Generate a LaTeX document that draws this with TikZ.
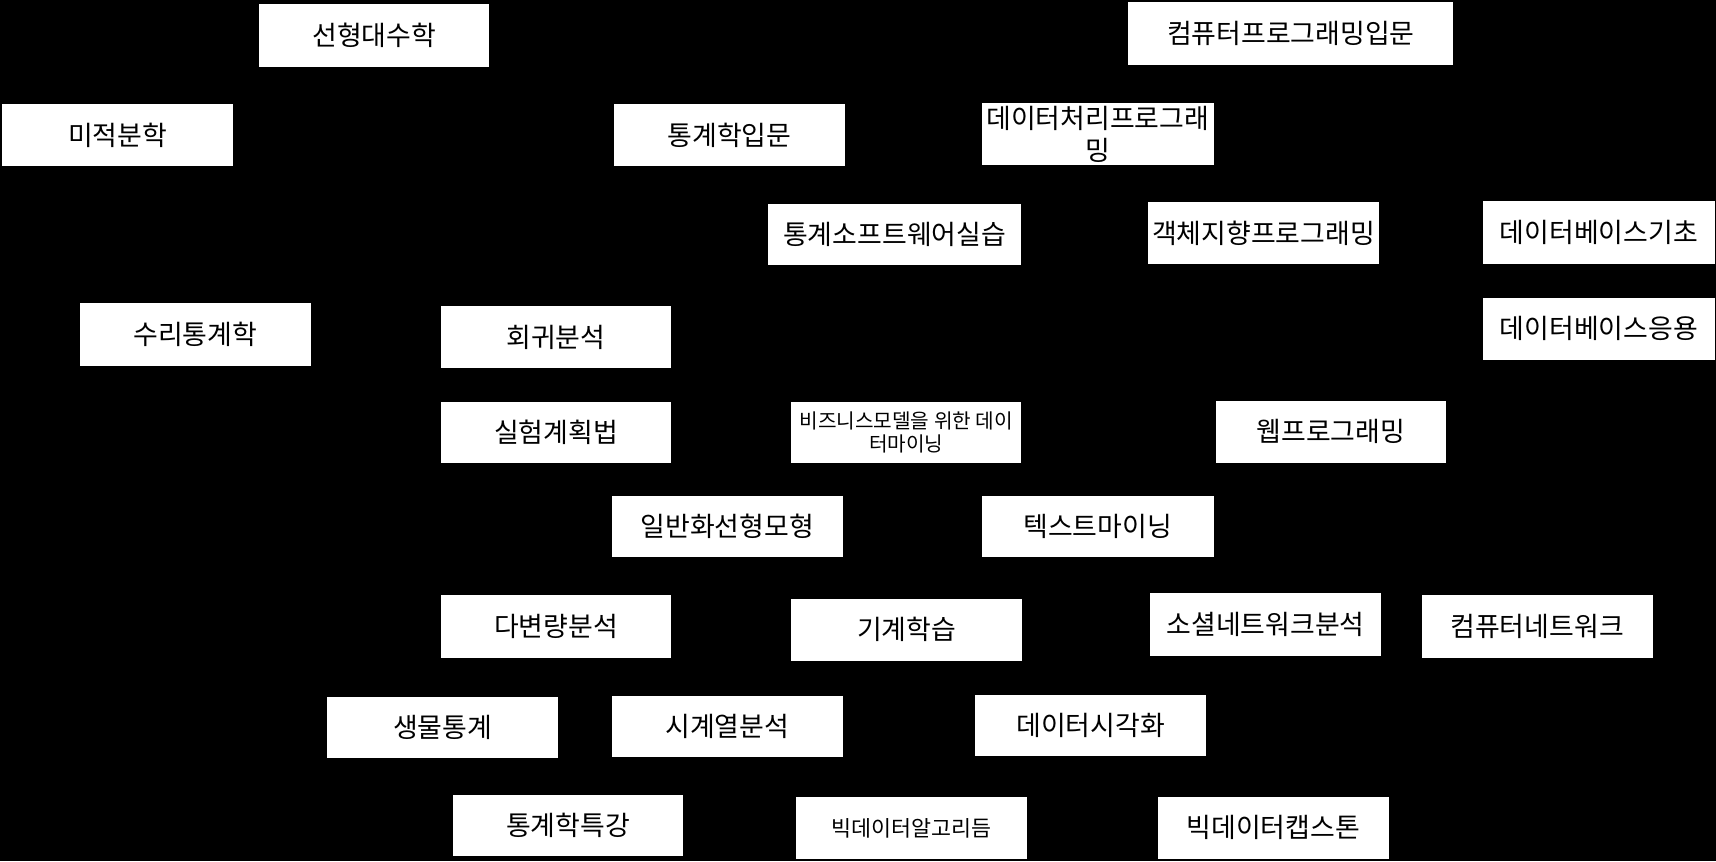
\documentclass[tikz,border=0pt]{standalone}
\usepackage{fontspec}
\setmainfont{Noto Sans CJK KR}
\usetikzlibrary{arrows.meta}
\begin{document}
\begin{tikzpicture}[x=0.02cm,y=-0.02cm,
  box/.style={fill=white,draw=none,inner sep=0pt,align=center,
    font=\fontsize{14}{16.5}\selectfont},
  sz/.style 2 args={minimum width=#1*0.02cm,minimum height=#2*0.02cm},
  smalltxt/.style={font=\fontsize{10.5}{12}\selectfont},
  midtxt/.style={font=\fontsize{11.3}{13}\selectfont},
  conn/.style={draw=black,line width=0.6pt,-{Stealth[length=5pt]}}]
\fill[black] (0,0) rectangle (1568,787);
\useasboundingbox (0,0) rectangle (1568,787);
\node[box,sz={210}{57}] (lin) at (342,32.5) {선형대수학};
\node[box,sz={297}{57}] (cpi) at (1179.5,30.5) {컴퓨터프로그래밍입문};
\node[box,sz={211}{57}] (calc) at (107.5,123.5) {미적분학};
\node[box,sz={211}{57}] (intro) at (666.5,123.5) {통계학입문};
\node[box,sz={212}{57}] (dproc) at (1003,122.5) {데이터처리프로그래\\밍};
\node[box,sz={231}{56}] (ssw) at (817.5,214) {통계소프트웨어실습};
\node[box,sz={211}{56}] (oop) at (1154.5,213) {객체지향프로그래밍};
\node[box,sz={212}{57}] (dbb) at (1461,212.5) {데이터베이스기초};
\node[box,sz={211}{57}] (mstat) at (178.5,305.5) {수리통계학};
\node[box,sz={210}{56}] (reg) at (508,308) {회귀분석};
\node[box,sz={212}{57}] (dba) at (1461,300.5) {데이터베이스응용};
\node[box,sz={210}{56}] (doe) at (508,395) {실험계획법};
\node[box,sz={210}{56},smalltxt] (bdm) at (828,395) {비즈니스모델을 위한 데이\\터마이닝};
\node[box,sz={210}{57}] (web) at (1216,394.5) {웹프로그래밍};
\node[box,sz={211}{56}] (glm) at (664.5,481) {일반화선형모형};
\node[box,sz={212}{56}] (tm) at (1003,481) {텍스트마이닝};
\node[box,sz={210}{57}] (mva) at (508,572.5) {다변량분석};
\node[box,sz={211}{57}] (ml) at (828.5,575.5) {기계학습};
\node[box,sz={211}{57}] (sna) at (1156.5,570.5) {소셜네트워크분석};
\node[box,sz={211}{57}] (cn) at (1404.5,572.5) {컴퓨터네트워크};
\node[box,sz={211}{56}] (bio) at (404.5,665) {생물통계};
\node[box,sz={211}{56}] (ts) at (664.5,664) {시계열분석};
\node[box,sz={211}{56}] (viz) at (996.5,663) {데이터시각화};
\node[box,sz={210}{56}] (sp) at (519,754) {통계학특강};
\node[box,sz={211}{57},midtxt] (bda) at (832.5,756.5) {빅데이터알고리듬};
\node[box,sz={211}{57}] (cap) at (1163.5,756.5) {빅데이터캡스톤};
\draw[conn] ([xshift=0.81cm]calc.south) -- ([xshift=-0.61cm]mstat.north);
\draw[conn] ([xshift=1.34cm]oop.south) -- ([xshift=0.11cm]web.north);
\end{tikzpicture}
\end{document}
